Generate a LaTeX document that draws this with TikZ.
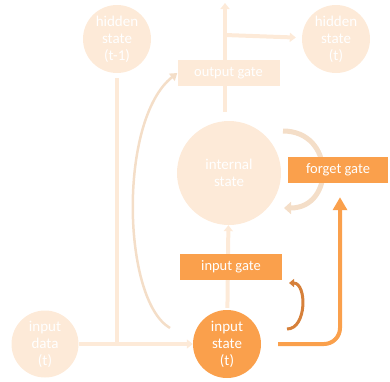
\documentclass[tikz,border=0pt]{standalone}
\usepackage{fontspec}
\setmainfont{Carlito}
\usetikzlibrary{arrows.meta}
\definecolor{fade}{RGB}{253,234,216}
\definecolor{fadearc}{RGB}{244,222,200}
\definecolor{lstm}{RGB}{250,160,76}
\definecolor{lstmdark}{RGB}{214,128,58}
\tikzset{
  state/.style={circle, fill=#1, text=white, align=center, inner sep=0pt,
    font=\fontsize{15}{17}\selectfont},
  gate/.style={rectangle, fill=#1, text=white, inner sep=0pt, minimum width=102pt,
    minimum height=26pt, font=\fontsize{14.5}{17}\selectfont},
  flow/.style={line width=4pt, draw=fade, -{Triangle[length=6pt, width=9pt]}},
}
\begin{document}
\begin{tikzpicture}[x=1pt, y=-1pt]
    \useasboundingbox (0,0) rectangle (390,381);
    \node[state=fade, minimum size=68pt] (H0) at (117,39) {hidden\\state\\(t-1)};
    \node[state=fade, minimum size=68pt] (H1) at (336,39) {hidden\\state\\(t)};
    \node[state=fade, minimum size=104pt] (C) at (229,173) {internal\\state};
    \node[state=fade, minimum size=67pt] (D) at (45,344) {input\\data\\(t)};
    \node[state=lstm, minimum size=68pt] (X) at (227,344) {input\\state\\(t)};
    \coordinate (J) at (H0 |- D);
    \coordinate (top) at (225,3);
    \coordinate (br) at (225,35);
    % flows behind the gates
    \draw[flow] (D) to[shorten <=5pt, shorten >=2pt] (X);
    \draw[line width=4pt, draw=fade, shorten <=5pt] (H0) -- (J);
    \draw[flow, shorten <=2pt] (X) -- (C);
    \draw[flow] (225,112) -- (top);
    \draw[flow, shorten >=6pt] (br) -- (H1);
    \draw[line width=5pt, draw=fadearc, -{Triangle[length=7pt, width=12pt]}]
        (283,131) .. controls (335,131) and (335,208) .. (284,208);
    \node[gate=fade] (O) at (228.5,73) {output gate};
    \node[gate=lstm, minimum width=100pt] (F) at (338,170) {forget gate};
    \node[gate=lstm] (I) at (231,267) {input gate};
    % recurrent arrows
    \draw[line width=2.5pt, draw=fadearc, -{Triangle[length=7pt, width=9pt]}]
        (170,328) .. controls (122,300) and (118,120) .. (O.west);
    \draw[line width=3pt, draw=lstmdark, -{Triangle[length=5pt, width=8pt]}]
        (287,329) .. controls (307,329) and (307,283) .. (289,283);
    \draw[line width=4pt, draw=lstm, rounded corners=16pt, -{Triangle[length=13pt, width=14pt]},
        shorten <=17pt, shorten >=14pt]
        (X.east) -| ([xshift=2pt]F.south);
\end{tikzpicture}
\end{document}
